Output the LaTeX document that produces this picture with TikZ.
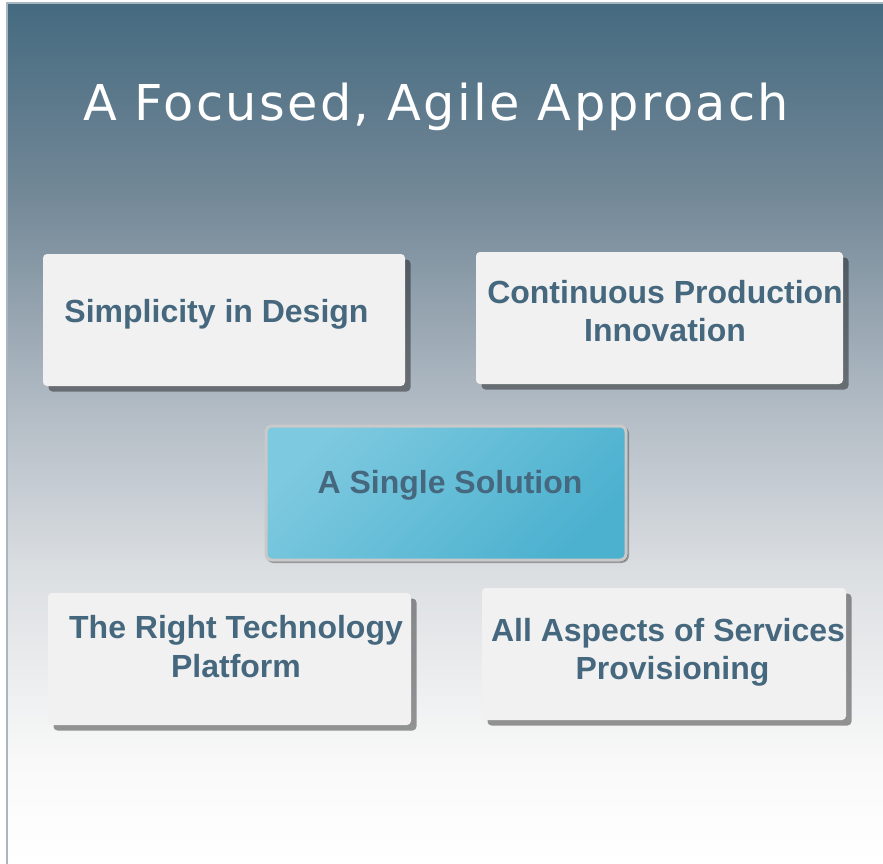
\documentclass[tikz,border=0pt]{standalone}
\usepackage{fontspec}
\setmainfont{Liberation Sans}
\newfontfamily\titlefont[LetterSpace=4.7]{DejaVu Sans}
\usetikzlibrary{shadows}

\definecolor{slate}{RGB}{69,106,128}
\definecolor{fadeA}{RGB}{115,136,151}
\definecolor{fadeB}{RGB}{180,189,198}
\definecolor{fadeC}{RGB}{220,223,226}
\definecolor{fadeD}{RGB}{249,249,249}
\definecolor{framegray}{RGB}{168,182,192}
\definecolor{boxface}{RGB}{241,241,241}
\definecolor{ink}{RGB}{70,104,126}
\definecolor{aqualight}{RGB}{125,201,223}
\definecolor{aquadark}{RGB}{76,177,207}
\definecolor{rim}{RGB}{201,201,201}

\pgfdeclareverticalshading{bgfade}{100bp}{color(0bp)=(white); color(25bp)=(white);
  color(30.8bp)=(fadeD); color(41.8bp)=(fadeC); color(51.1bp)=(fadeB);
  color(63.9bp)=(fadeA); color(75bp)=(slate); color(100bp)=(slate)}

\tikzset{
  card/.style={rounded corners=4pt, fill=boxface, inner sep=0pt,
    minimum width=362pt, minimum height=132pt,
    drop shadow={shadow xshift=5.5pt, shadow yshift=-5.5pt, opacity=0.4, fill=black}},
  hub/.style={rounded corners=6pt, draw=rim, line width=3pt, inner sep=0pt,
    top color=aqualight, bottom color=aquadark, shading angle=45,
    minimum width=360pt, minimum height=134pt,
    drop shadow={shadow xshift=1.5pt, shadow yshift=-1.5pt, opacity=0.3,
      fill=black, draw=black, line width=3pt}},
  cardtext/.style={text=ink, font=\fontsize{32}{38.3}\selectfont\bfseries,
    align=center, inner sep=0pt, anchor=base},
}

\begin{document}
\begin{tikzpicture}
    [x=1pt, y=-1pt]
    \useasboundingbox (0,0) rectangle (883,864);
    \fill[white] (0,0) rectangle (883,864);
    \shade[shading=bgfade] (8,4) rectangle (883,864);
    \draw[framegray, line width=2pt] (7,864) -- (7,3) -- (883,3);
    \node(0) at (436,121) [anchor=base, inner sep=0pt, text=white,
      font=\titlefont\fontsize{49.4}{50}\selectfont] {A Focused, Agile Approach};
    % outer cards
    \node[card](1) at (224,320) {};
    \node[card, minimum width=367pt](2) at (659.5,318) {};
    \node[card, minimum width=363pt](4) at (229.5,659) {};
    \node[card, minimum width=364pt](5) at (664,654) {};
    % centre card
    \node[hub](3) at (446,493) {};
    % base of a two line label is its last line
    \node[cardtext](1a) at (216.5,322) {Simplicity in Design};
    \node[cardtext](2a) at (665,341.7) {Continuous Production\\Innovation};
    \node[cardtext](3a) at (450,493.3) {A Single Solution};
    \node[cardtext](4a) at (236,677) {The Right Technology\\Platform};
    \node[cardtext](5a) at (672.5,679.3) {All Aspects of Services\hspace*{9pt}\\Provisioning};
\end{tikzpicture}
\end{document}
